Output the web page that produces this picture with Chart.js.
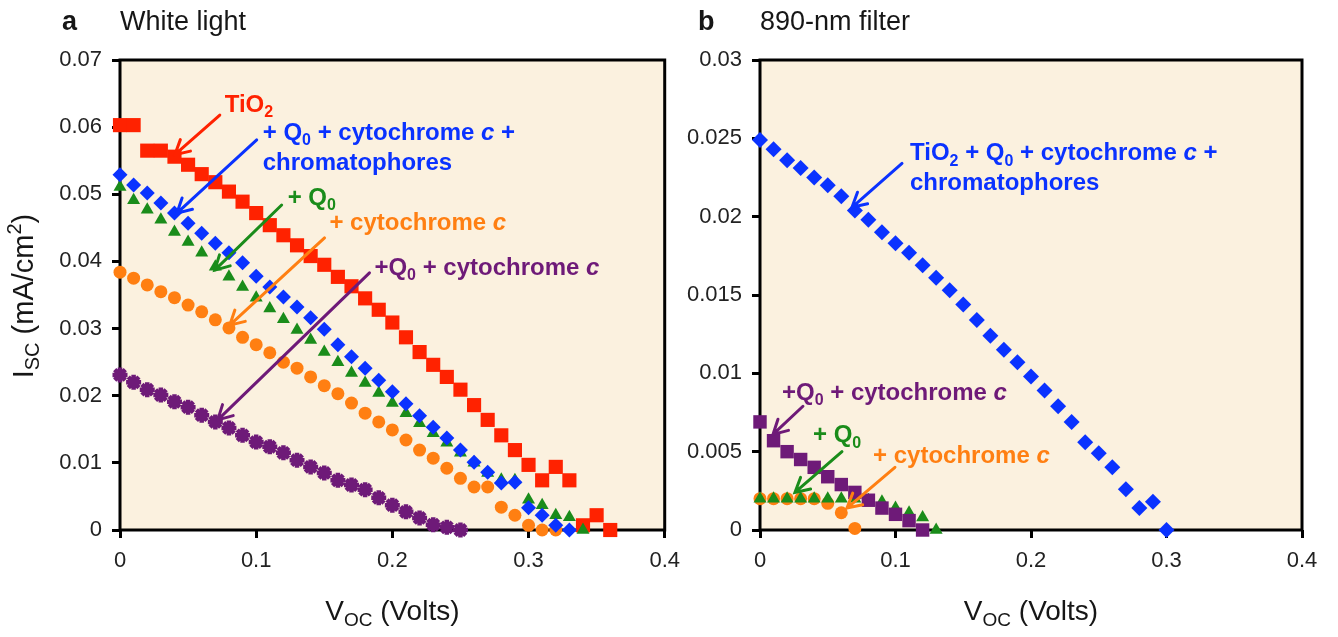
<!DOCTYPE html>
<html>
<head>
<meta charset="utf-8">
<script src="https://cdn.jsdelivr.net/npm/chart.js@4.4.1/dist/chart.umd.min.js"></script>
<style>
  html, body { margin: 0; padding: 0; background: #fff; }
  body { width: 1338px; height: 637px; position: relative; overflow: hidden; }
  .panel { position: absolute; top: 0; height: 637px; }
  #panelA { left: 0; width: 690px; }
  #panelB { left: 670px; width: 668px; }
</style>
</head>
<body>
<div class="panel" id="panelA"><canvas id="chartA" width="690" height="637"></canvas></div>
<div class="panel" id="panelB"><canvas id="chartB" width="668" height="637"></canvas></div>
<script>
// ---- data: panel a (white light) ----
const voltsA = [0, 0.01, 0.02, 0.03, 0.04, 0.05, 0.06, 0.07, 0.08, 0.09, 0.10, 0.11, 0.12,
  0.13, 0.14, 0.15, 0.16, 0.17, 0.18, 0.19, 0.20, 0.21, 0.22, 0.23, 0.24, 0.25, 0.26, 0.27,
  0.28, 0.29, 0.30, 0.31, 0.32, 0.33, 0.34, 0.35, 0.36];
const tio2A = [0.0603, 0.0603, 0.0565, 0.0565, 0.0556, 0.0544, 0.053, 0.0518, 0.0504, 0.0489,
  0.0472, 0.0454, 0.0439, 0.0424, 0.0408, 0.0395, 0.0377, 0.0363, 0.0345, 0.0328, 0.0309,
  0.0287, 0.0265, 0.0246, 0.0228, 0.0209, 0.0186, 0.0164, 0.0141, 0.0119, 0.0097, 0.0074,
  0.0094, 0.0074, 0.0007, 0.0022, 0];
const fullA = [0.0529, 0.0514, 0.0502, 0.0487, 0.0472, 0.0457, 0.0442, 0.0427, 0.0413, 0.0398,
  0.0378, 0.0362, 0.0347, 0.0332, 0.0316, 0.0299, 0.0276, 0.0258, 0.0241, 0.0223, 0.0206,
  0.0188, 0.017, 0.0153, 0.0137, 0.0119, 0.0101, 0.0086, 0.007, 0.0071, 0.0033, 0.0022,
  0.0007, 0];
const q0A = [0.0511, 0.0491, 0.0477, 0.0462, 0.0444, 0.0429, 0.0413, 0.0392, 0.0377, 0.0362,
  0.0346, 0.033, 0.0314, 0.0298, 0.0283, 0.0265, 0.025, 0.0234, 0.0219, 0.0204, 0.0189,
  0.0174, 0.0159, 0.0144, 0.013, 0.0115, 0.01, 0.0085, 0.0075, 0.0074, 0.0045, 0.0037,
  0.0022, 0.0019, 0];
const cytA = [0.0384, 0.0375, 0.0365, 0.0355, 0.0346, 0.0335, 0.0325, 0.0313, 0.0301, 0.0287,
  0.0276, 0.0264, 0.025, 0.0241, 0.0228, 0.0215, 0.0203, 0.0189, 0.0174, 0.0161, 0.0149,
  0.0134, 0.0119, 0.0107, 0.0092, 0.0077, 0.0064, 0.0064, 0.0034, 0.0022, 0.0007, 0, 0];
const q0cytA = [0.0231, 0.022, 0.0209, 0.0201, 0.0191, 0.0183, 0.0171, 0.0161, 0.0152, 0.0141,
  0.0131, 0.0124, 0.0115, 0.0104, 0.0094, 0.0085, 0.0074, 0.0067, 0.006, 0.0048, 0.0037,
  0.0027, 0.0018, 0.0008, 0.0004, 0];

// ---- data: panel b (890-nm filter) ----
const voltsB = [0, 0.01, 0.02, 0.03, 0.04, 0.05, 0.06, 0.07, 0.08, 0.09, 0.10, 0.11, 0.12,
  0.13, 0.14, 0.15, 0.16, 0.17, 0.18, 0.19, 0.20, 0.21, 0.22, 0.23, 0.24, 0.25, 0.26, 0.27,
  0.28, 0.29, 0.30];
const fullB = [0.0249, 0.0243, 0.0236, 0.0231, 0.0225, 0.022, 0.0213, 0.0204, 0.0198, 0.019,
  0.0183, 0.0177, 0.0169, 0.0161, 0.0153, 0.0144, 0.0134, 0.0124, 0.0115, 0.0107, 0.0098,
  0.0089, 0.0079, 0.0069, 0.0056, 0.0049, 0.004, 0.0026, 0.0014, 0.0018, 0];
const q0cytB = [0.0069, 0.0057, 0.005, 0.0045, 0.004, 0.0034, 0.0029, 0.0024, 0.0019, 0.0014,
  0.001, 0.0006, 0];
const q0B = [0.002, 0.002, 0.002, 0.002, 0.002, 0.002, 0.002, 0.002, 0.0019, 0.0018, 0.0014,
  0.0011, 0.0008, 0];
const cytB = [0.002, 0.002, 0.002, 0.002, 0.002, 0.0017, 0.0011, 0.0001];

// ---- tick labels ----
const xTicks = [0, 0.1, 0.2, 0.3, 0.4];
const yTicksA = [0, 0.01, 0.02, 0.03, 0.04, 0.05, 0.06, 0.07];
const yTicksB = [0, 0.005, 0.01, 0.015, 0.02, 0.025, 0.03];

const FONT = "'Liberation Sans', Arial, sans-serif";
const RED = '#ff2200', BLUE = '#0a32ff', GREEN = '#1a8c1a', ORANGE = '#ff7f12', PURPLE = '#6e1a78';
const TEXT = '#161616';

// annotation labels with arrows, positioned in data units
const notesA = [
  { color: RED, at: [0.0769, 0.0623], from: [0.0733, 0.0618], to: [0.0403, 0.0559],
    lines: [[['TiO'], ['2', 'sub']]] },
  { color: BLUE, at: [0.1048, 0.0581], from: [0.1004, 0.0581], to: [0.0418, 0.0472],
    lines: [[['+ Q'], ['0', 'sub'], [' + cytochrome '], ['c', 'i'], [' +']], [['chromatophores']]] },
  { color: GREEN, at: [0.1231, 0.0484], from: [0.1187, 0.0484], to: [0.0696, 0.0387],
    lines: [[['+ Q'], ['0', 'sub']]] },
  { color: ORANGE, at: [0.1538, 0.0447], from: [0.1502, 0.0435], to: [0.0806, 0.0305],
    lines: [[['+ cytochrome '], ['c', 'i']]] },
  { color: PURPLE, at: [0.1868, 0.038], from: [0.1832, 0.0383], to: [0.0718, 0.0164],
    lines: [[['+Q'], ['0', 'sub'], [' + cytochrome '], ['c', 'i']]] }
];
const notesB = [
  { color: BLUE, at: [0.1107, 0.0236], from: [0.1048, 0.0234], to: [0.0679, 0.0206],
    lines: [[['TiO'], ['2', 'sub'], [' + Q'], ['0', 'sub'], [' + cytochrome '], ['c', 'i'], [' +']],
            [['chromatophores']]] },
  { color: PURPLE, at: [0.0162, 0.0083], from: [0.0317, 0.0079], to: [0.0096, 0.0061],
    lines: [[['+Q'], ['0', 'sub'], [' + cytochrome '], ['c', 'i']]] },
  { color: GREEN, at: [0.0391, 0.0056], from: [0.0605, 0.005], to: [0.0258, 0.0024],
    lines: [[['+ Q'], ['0', 'sub']]] },
  { color: ORANGE, at: [0.0834, 0.0043], from: [0.0996, 0.004], to: [0.0642, 0.0014],
    lines: [[['+ cytochrome '], ['c', 'i']]] }
];

function pts(xs, ys) {
  return ys.map((y, i) => ({ x: xs[i], y }));
}

// draw a run list like [['I'], ['SC', 'sub'], [' (mA/cm'], ['2', 'sup'], [')']]
function drawRich(ctx, runs, x, y, size, bold, color, align) {
  const fontFor = (k) => {
    const small = k === 'sub' || k === 'sup';
    return (k === 'i' ? 'italic ' : '') + (bold ? 'bold ' : '') + Math.round(small ? size * 0.68 : size) + 'px ' + FONT;
  };
  let total = 0;
  const widths = runs.map(([t, k]) => { ctx.font = fontFor(k); const w = ctx.measureText(t).width; total += w; return w; });
  let cx = align === 'center' ? x - total / 2 : x;
  ctx.fillStyle = color;
  ctx.textBaseline = 'alphabetic';
  ctx.textAlign = 'left';
  runs.forEach(([t, k], i) => {
    ctx.font = fontFor(k);
    const dy = k === 'sub' ? size * 0.22 : k === 'sup' ? -size * 0.42 : 0;
    ctx.fillText(t, cx, y + dy);
    cx += widths[i];
  });
}

function drawArrow(ctx, x1, y1, x2, y2, color) {
  const ang = Math.atan2(y2 - y1, x2 - x1);
  const head = 16, spread = 0.5;
  ctx.save();
  ctx.strokeStyle = color;
  ctx.lineWidth = 3;
  ctx.lineCap = 'round';
  ctx.beginPath();
  ctx.moveTo(x1, y1);
  ctx.lineTo(x2, y2);
  ctx.moveTo(x2 - head * Math.cos(ang - spread), y2 - head * Math.sin(ang - spread));
  ctx.lineTo(x2, y2);
  ctx.lineTo(x2 - head * Math.cos(ang + spread), y2 - head * Math.sin(ang + spread));
  ctx.stroke();
  ctx.restore();
}

const decor = {
  id: 'decor',
  beforeDraw(chart) {
    const { ctx, chartArea: a } = chart;
    ctx.save();
    ctx.fillStyle = '#fbf1df';
    ctx.fillRect(a.left, a.top, a.right - a.left, a.bottom - a.top);
    ctx.restore();
  },
  beforeDatasetsDraw(chart) {
    const { ctx, chartArea: a } = chart;
    ctx.save();
    ctx.strokeStyle = '#000';
    ctx.lineWidth = 3;
    ctx.strokeRect(a.left, a.top, a.right - a.left, a.bottom - a.top);
    ctx.restore();
  },
  afterDatasetsDraw(chart, args, opts) {
    const { ctx, chartArea: a, scales } = chart;
    const px = (v) => scales.x.getPixelForValue(v);
    const py = (v) => scales.y.getPixelForValue(v);
    ctx.save();
    opts.notes.forEach(n => {
      drawArrow(ctx, px(n.from[0]), py(n.from[1]), px(n.to[0]), py(n.to[1]), n.color);
      n.lines.forEach((runs, i) => {
        drawRich(ctx, runs, px(n.at[0]), py(n.at[1]) + i * 30, 24, true, n.color, 'left');
      });
    });
    // panel letter and title
    drawRich(ctx, [[opts.letter]], opts.letterX, 30, 27, true, TEXT, 'left');
    drawRich(ctx, [[opts.title]], a.left, 30, 27, false, TEXT, 'left');
    // x axis title
    drawRich(ctx, [['V'], ['OC', 'sub'], [' (Volts)']], (a.left + a.right) / 2, 620, 28, false, TEXT, 'center');
    if (opts.yTitle) {
      ctx.translate(33, 296);
      ctx.rotate(-Math.PI / 2);
      drawRich(ctx, [['I'], ['SC', 'sub'], [' (mA/cm'], ['2', 'sup'], [')']], 0, 0, 29, false, TEXT, 'center');
    }
    ctx.restore();
  }
};

function axisOpts(tickList, max, fit) {
  return {
    type: 'linear',
    min: 0,
    max: max,
    afterBuildTicks: (s) => { s.ticks = tickList.map(v => ({ value: v })); },
    afterFit: fit,
    grid: { display: true, drawOnChartArea: false, drawTicks: true, tickLength: 8, tickWidth: 3, tickColor: '#000' },
    border: { display: false },
    ticks: {
      autoSkip: false,
      color: '#222',
      padding: 10,
      font: { family: FONT, size: 22 },
      callback: (v) => String(v)
    }
  };
}

function makeChart(id, datasets, yTicks, yMax, yWidth, padRight, notes, letter, letterX, title, yTitle) {
  return new Chart(document.getElementById(id), {
    type: 'scatter',
    data: { datasets },
    options: {
      responsive: false,
      animation: false,
      devicePixelRatio: 1,
      layout: { padding: { left: 0, top: 60, right: padRight, bottom: 0 } },
      scales: {
        x: axisOpts(xTicks, 0.4, (s) => { s.height = 107; }),
        y: axisOpts(yTicks, yMax, (s) => { s.width = yWidth; })
      },
      plugins: {
        legend: { display: false },
        tooltip: { enabled: false },
        decor: { notes, letter, letterX, title, yTitle }
      }
    },
    plugins: [decor]
  });
}

function series(label, xs, ys, style, color, radius, extra) {
  return Object.assign({
    label,
    data: pts(xs, ys),
    pointStyle: style,
    pointRadius: radius,
    backgroundColor: color,
    borderColor: color,
    pointBorderWidth: 0,
    clip: false
  }, extra || {});
}

// first dataset is drawn on top
makeChart('chartA', [
  series('TiO2 + Q0 + cytochrome c + chromatophores', voltsA, fullA, 'rectRot', BLUE, 7.5),
  series('+ Q0', voltsA, q0A, 'triangle', GREEN, 7.5),
  series('+ cytochrome c', voltsA, cytA, 'circle', ORANGE, 6.5),
  series('TiO2', voltsA, tio2A, 'rect', RED, 10),
  series('+Q0 + cytochrome c', voltsA, q0cytA, 'star', PURPLE, 7.5, { pointBorderWidth: 4.5 })
], yTicksA, 0.07, 120, 24, notesA, 'a', 62, 'White light', true);

makeChart('chartB', [
  series('TiO2 + Q0 + cytochrome c + chromatophores', voltsB, fullB, 'rectRot', BLUE, 8),
  series('+Q0 + cytochrome c', voltsB, q0cytB, 'rect', PURPLE, 9.5),
  series('+ Q0', voltsB, q0B, 'triangle', GREEN, 7.5),
  series('+ cytochrome c', voltsB, cytB, 'circle', ORANGE, 6.5)
], yTicksB, 0.03, 90, 36, notesB, 'b', 28, '890-nm filter', false);
</script>
</body>
</html>
